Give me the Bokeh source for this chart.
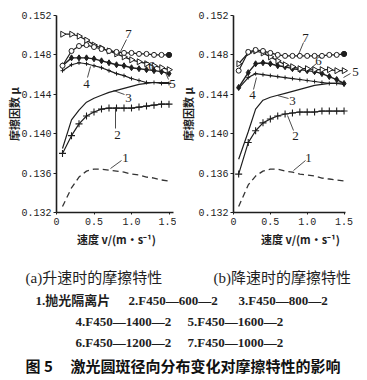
import math
from bokeh.plotting import figure
from bokeh.layouts import column, row
from bokeh.models import Range1d, FixedTicker, Label, PrintfTickFormatter
from bokeh.core.properties import value
from bokeh.embed import file_html
from bokeh.resources import INLINE

# ---------------- data ----------------
speed_a = [0.08, 0.2, 0.3, 0.4, 0.5, 0.6, 0.7, 0.8, 0.9, 1.0, 1.1, 1.2, 1.3, 1.4, 1.5]
a1 = [0.1326, 0.1345, 0.1356, 0.1362, 0.1364, 0.1364, 0.1363, 0.1362, 0.1361, 0.1359, 0.1358, 0.1356, 0.1355, 0.1353, 0.1352]
a2 = [0.1380, 0.1398, 0.1410, 0.1418, 0.1422, 0.1425, 0.1426, 0.1426, 0.1426, 0.1426, 0.1427, 0.1428, 0.1429, 0.1430, 0.1430]
a3 = [0.1385, 0.1414, 0.1424, 0.1432, 0.1436, 0.1439, 0.1442, 0.1444, 0.1446, 0.1448, 0.1450, 0.1451, 0.1452, 0.1452, 0.1452]
a4 = [0.1464, 0.1470, 0.1472, 0.1471, 0.1469, 0.1467, 0.1464, 0.1461, 0.1459, 0.1456, 0.1454, 0.1452, 0.1452, 0.1451, 0.1451]
a5 = [0.1469, 0.1477, 0.1477, 0.1477, 0.1476, 0.1474, 0.1472, 0.1470, 0.1469, 0.1467, 0.1466, 0.1465, 0.1464, 0.1463, 0.1461]
a6 = [0.1501, 0.1501, 0.1499, 0.1495, 0.1490, 0.1487, 0.1484, 0.1481, 0.1478, 0.1475, 0.1473, 0.1471, 0.1469, 0.1467, 0.1465]
a7 = [0.1469, 0.1484, 0.1489, 0.1490, 0.1488, 0.1486, 0.1484, 0.1483, 0.1482, 0.1482, 0.1481, 0.1481, 0.1480, 0.1480, 0.1480]

speed_b = [0.07, 0.2, 0.3, 0.4, 0.5, 0.6, 0.7, 0.8, 0.9, 1.0, 1.1, 1.2, 1.3, 1.4, 1.5]
b1 = [0.1326, 0.1348, 0.1357, 0.1362, 0.1364, 0.1364, 0.1362, 0.1361, 0.1359, 0.1358, 0.1357, 0.1355, 0.1354, 0.1353, 0.1352]
b2 = [0.1359, 0.1391, 0.1403, 0.1411, 0.1415, 0.1418, 0.1420, 0.1421, 0.1422, 0.1422, 0.1422, 0.1423, 0.1423, 0.1423, 0.1423]
b3 = [0.1374, 0.1402, 0.1425, 0.1434, 0.1437, 0.1439, 0.1441, 0.1443, 0.1445, 0.1447, 0.1449, 0.1450, 0.1451, 0.1451, 0.1452]
b4 = [0.1446, 0.1457, 0.1461, 0.1460, 0.1459, 0.1458, 0.1457, 0.1456, 0.1455, 0.1454, 0.1453, 0.1452, 0.1451, 0.1451, 0.1450]
b5 = [0.1447, 0.1462, 0.1471, 0.1472, 0.1471, 0.1469, 0.1468, 0.1466, 0.1465, 0.1464, 0.1463, 0.1461, 0.1458, 0.1455, 0.1451]
b6 = [0.1471, 0.1482, 0.1484, 0.1482, 0.1478, 0.1474, 0.1470, 0.1468, 0.1466, 0.1466, 0.1465, 0.1465, 0.1465, 0.1464, 0.1464]
b7 = [0.1464, 0.1483, 0.1485, 0.1484, 0.1482, 0.1480, 0.1479, 0.1479, 0.1479, 0.1479, 0.1479, 0.1479, 0.1480, 0.1480, 0.1481]

x_ticks = [0, 0.5, 1.0, 1.5]
y_ticks = [0.132, 0.136, 0.140, 0.144, 0.148, 0.152]
x_title = "速度 v/(m·s⁻¹)"
y_title = "摩擦因数 μ"
curve_names = ["1", "2", "3", "4", "5", "6", "7"]

cap_ab = ["(a)升速时的摩擦特性", "(b)降速时的摩擦特性"]
cap_row2 = ["1.抛光隔离片", "2.F450—600—2", "3.F450—800—2"]
cap_row3 = ["4.F450—1400—2", "5.F450—1600—2"]
cap_row4 = ["6.F450—1200—2", "7.F450—1000—2"]
cap_fig = ["图 5", "激光圆斑径向分布变化对摩擦特性的影响"]

INK = "#1e1e1e"
SERIF = "Liberation Serif, Noto Sans CJK SC"
TOP = 15
PX_PER_MU = 9850.0


def make_panel(w, bl, xend, xbound, xs, ys, label_std, fl, pxu, label_pos):
    p = figure(width=w, height=250, x_range=Range1d(0, xend), y_range=Range1d(0.132, 0.152),
               output_backend="svg", toolbar_location=None,
               min_border_left=bl, min_border_right=0, min_border_top=TOP, min_border_bottom=38)
    p.outline_line_color = None
    p.grid.visible = False
    p.background_fill_color = "white"
    p.border_fill_color = "white"
    for ax in (p.xaxis[0], p.yaxis[0]):
        ax.axis_line_color = INK
        ax.axis_line_width = 1.6
        ax.major_tick_line_color = INK
        ax.minor_tick_line_color = None
        ax.major_tick_in = 0
        ax.major_label_text_font = "Liberation Mono"
        ax.major_label_text_font_size = "10px"
        ax.major_label_text_color = INK
        ax.axis_label_text_font = "Noto Sans CJK SC"
        ax.axis_label_text_font_style = "bold"
        ax.axis_label_text_font_size = "11px"
        ax.axis_label_text_color = INK
    xa, ya = p.xaxis[0], p.yaxis[0]
    xa.bounds = (0, xbound)
    xa.ticker = FixedTicker(ticks=x_ticks)
    xa.formatter = PrintfTickFormatter(format="%.1f")
    xa.major_label_overrides = {0: "0"}
    xa.major_tick_out = 2
    xa.major_label_standoff = 3
    xa.axis_label = x_title
    xa.axis_label_standoff = 3
    ya.ticker = FixedTicker(ticks=y_ticks)
    ya.formatter = PrintfTickFormatter(format="%.3f")
    ya.major_tick_out = 3
    ya.major_label_standoff = 2
    ya.axis_label = y_title
    ya.axis_label_standoff = label_std

    y1, y2, y3, y4, y5, y6, y7 = ys
    p.line(xs, y1, line_color="#333333", line_width=1.3, line_dash="6 4")
    p.line(xs, y2, line_color=INK, line_width=1.2)
    p.line(xs, y3, line_color=INK, line_width=1.2)
    p.line(xs, y4, line_color=INK, line_width=1.2)
    p.line(xs, y5, line_color=INK, line_width=1.4)
    p.line(xs, y6, line_color=INK, line_width=1.2)
    p.line(xs, y7, line_color=INK, line_width=1.2)
    p.scatter(xs, y2, marker="cross", size=7, line_color=INK, line_width=1.1)
    p.scatter(xs, y4, marker="cross", size=4, line_color=INK, line_width=1)
    p.scatter(xs, y5, marker="diamond", size=6, line_color=INK, fill_color=INK)
    p.scatter(xs, y6, marker="triangle", size=6, angle=-math.pi / 2, line_color=INK,
              fill_color="white", line_width=1)
    p.scatter(xs, y7, marker="circle", size=5, line_color=INK, fill_color="white", line_width=1)
    p.scatter(xs[-1:], y7[-1:], marker="circle", size=5, line_color=INK, fill_color=INK)

    def dx(px):
        return (px - fl) / pxu

    def dy(py):
        return 0.152 - (py - TOP) / PX_PER_MU

    for name, (tx, ty, lx0, ly0, lx1, ly1) in zip(curve_names, label_pos):
        p.add_layout(Label(x=dx(tx), y=dy(ty), text=name, text_align="center",
                           text_baseline="middle", text_font=SERIF,
                           text_font_size="13px", text_color=INK))
        p.segment(x0=[dx(lx0)], y0=[dy(ly0)], x1=[dx(lx1)], y1=[dy(ly1)],
                  line_color=INK, line_width=0.8)
    return p


pos_a = [
    (125, 157, 121, 160, 110, 168),
    (117, 134, 115, 128, 115, 107),
    (128, 97, 124, 94, 113, 90),
    (86, 83, 87, 77, 90, 66),
    (172, 83, 168, 79, 165, 72),
    (151, 65, 148, 62, 141, 62),
    (128, 33, 126, 39, 120, 51),
]
pos_b = [
    (308, 157, 305, 160, 293, 170),
    (295, 135, 293, 130, 287, 115),
    (292, 100, 288, 98, 277, 95),
    (252, 94, 253, 89, 256, 77),
    (355, 71, 350, 73, 343, 77),
    (318, 60, 316, 63, 310, 68),
    (305, 37, 303, 42, 298, 54),
]

# panel (a): canvas 0..176, frame 56..176 at 75 px per unit
pa = make_panel(176, 56, 120 / 75.0, 1.56, speed_a, [a1, a2, a3, a4, a5, a6, a7], -4, 56, 75.0, pos_a)
# panel (b): canvas 176..367, frame 233..367 at 73.7 px per unit
pb = make_panel(191, 57, 134 / 73.7, 1.52, speed_b, [b1, b2, b3, b4, b5, b6, b7], -1, 233, 73.7, pos_b)

cap = figure(width=367, height=130, x_range=Range1d(0, 367), y_range=Range1d(130, 0),
             output_backend="svg", toolbar_location=None, min_border=0,
             x_axis_location=None, y_axis_location=None)
cap.grid.visible = False
cap.outline_line_color = None

cap.text(x=[25, 213], y=[27, 27], text=cap_ab, text_font=value(SERIF),
         text_font_size="15px", text_baseline="middle", text_align="left", text_color=INK)
cap.text(x=[35, 128, 238], y=[50, 50, 50], text=cap_row2, text_font=value(SERIF),
         text_font_size="13px", text_baseline="middle", text_align="left", text_color=INK,
         text_font_style="bold")
cap.text(x=[75, 187], y=[71, 71], text=cap_row3, text_font=value(SERIF),
         text_font_size="13px", text_baseline="middle", text_align="left", text_color=INK,
         text_font_style="bold")
cap.text(x=[75, 187], y=[92, 92], text=cap_row4, text_font=value(SERIF),
         text_font_size="13px", text_baseline="middle", text_align="left", text_color=INK,
         text_font_style="bold")
cap.text(x=[25, 70], y=[115, 115], text=cap_fig, text_font=value("Noto Sans CJK SC"),
         text_font_size="15px", text_baseline="middle", text_align="left", text_color="#111",
         text_font_style="bold")

layout = column(row(pa, pb, spacing=0), cap, spacing=0)
open("out.html", "w").write(file_html(layout, INLINE))
